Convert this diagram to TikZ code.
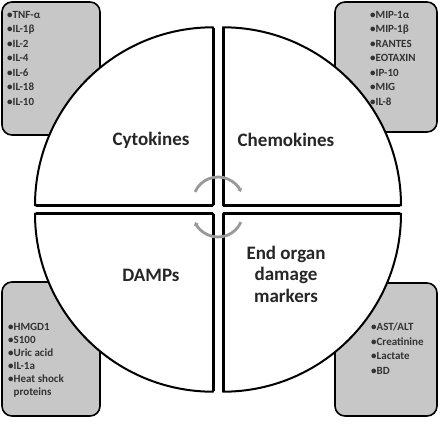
\documentclass[tikz,border=0pt]{standalone}
\usepackage{fontspec}
\setmainfont{Carlito}
\usetikzlibrary{arrows.meta}
\begin{document}
\begin{tikzpicture}[x=1pt,y=1pt,
  listbox/.style={draw=black,line width=1.6pt,fill=black!22,rounded corners=10pt},
  sector/.style={draw=black,fill=white,line width=2pt,line join=round},
  biglabel/.style={font=\bfseries\fontsize{19}{21.5}\selectfont,align=center,text=black!85},
  listtext/.style={font=\bfseries\fontsize{11}{14.5}\selectfont,align=left,anchor=north west,text=black!80,inner sep=0pt},
  cyc/.style={draw=black!40,line width=2.8pt,-{Triangle[length=3pt,width=5pt]}}]
\useasboundingbox (0,0) rectangle (445,424);
\fill[white] (0,0) rectangle (445,424);
% corner boxes
\draw[listbox] (2,289) rectangle (100,422);
\draw[listbox] (335,292) rectangle (437,422);
\draw[listbox] (2,8) rectangle (100,142);
\draw[listbox] (335,8) rectangle (437,141);
% sectors
\coordinate (ctl) at (213,218.7);
\coordinate (ctr) at (223,218.7);
\coordinate (cbl) at (213,210.3);
\coordinate (cbr) at (223,210.3);
\draw[sector] (ctl) -- ++(180:178) arc[start angle=180,end angle=90,radius=178] -- cycle;
\draw[sector] (ctr) -- ++(90:178) arc[start angle=90,end angle=0,radius=178] -- cycle;
\draw[sector] (cbl) -- ++(270:178) arc[start angle=270,end angle=180,radius=178] -- cycle;
\draw[sector] (cbr) -- ++(0:178) arc[start angle=0,end angle=-90,radius=178] -- cycle;
\draw[line width=3pt] (ctl) -- ++(180:177) (ctl) -- ++(90:177);
\draw[line width=3pt] (ctr) -- ++(0:177) (ctr) -- ++(90:177);
\draw[line width=3pt] (cbl) -- ++(180:177) (cbl) -- ++(270:177);
\draw[line width=3pt] (cbr) -- ++(0:177) (cbr) -- ++(270:177);
% cycle arcs
\coordinate (acu) at (218,221.9);
\coordinate (acd) at (218,212.1);
\draw[cyc] (acu) ++(156:25.1) arc[start angle=156,end angle=24,radius=25.1];
\draw[cyc] (acd) ++(336:25.1) arc[start angle=336,end angle=204,radius=25.1];
% labels
\node[biglabel] (cyto) at (151,284) {Cytokines};
\node[biglabel] (chemo) at (286,284) {Chemokines};
\node[biglabel] (damps) at (151,149) {DAMPs};
\node[biglabel] (endo) at (286,150) {End organ\\damage\\markers};
% lists
\node[listtext] (ltl) at (7,413) {•TNF-α\\•IL-1β\\•IL-2\\•IL-4\\•IL-6\\•IL-18\\•IL-10};
\node[listtext] (ltr) at (370,413) {•MIP-1α\\•MIP-1β\\•RANTES\\•EOTAXIN\\•IP-10\\•MIG\\•IL-8};
\node[listtext,font=\bfseries\fontsize{11}{13}\selectfont] (lbl) at (8,101) {•HMGD1\\•S100\\•Uric acid\\•IL-1a\\•Heat shock\\\phantom{•}proteins};
\node[listtext] (lbr) at (371,101) {•AST/ALT\\•Creatinine\\•Lactate\\•BD};
\end{tikzpicture}
\end{document}
